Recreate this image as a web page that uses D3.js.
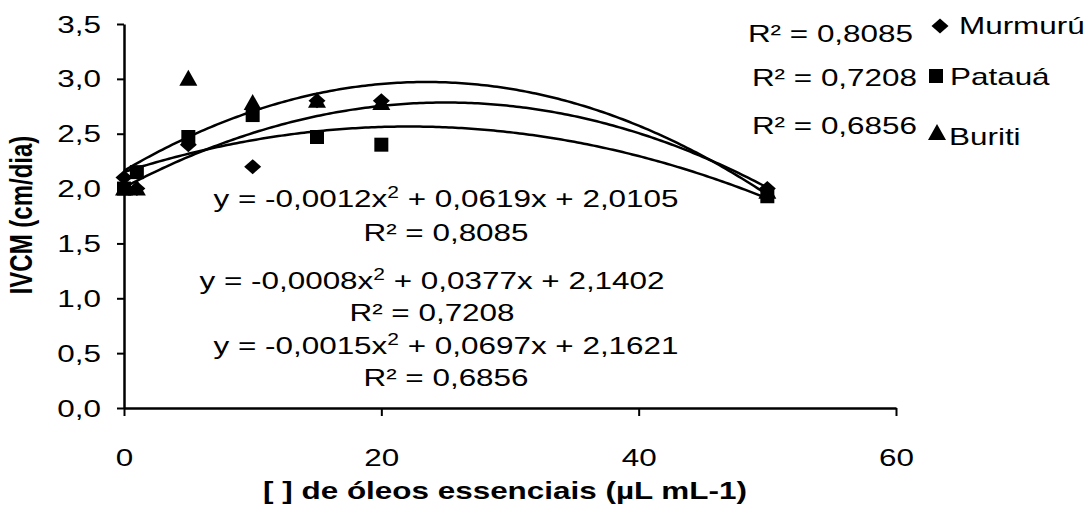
<!DOCTYPE html>
<html>
<head>
<meta charset="utf-8">
<script src="https://cdn.jsdelivr.net/npm/d3@7"></script>
<style>
  body { margin: 0; background: #fff; }
  svg { display: block; font-family: "Liberation Sans", Arial, sans-serif; }
</style>
</head>
<body>
<div id="chart"></div>
<script>
// doses (µL mL-1) and measured IVCM per oil
const doses = [0, 1, 5, 10, 15, 20, 50];
const murmuru = [2.1, 2.0, 2.4, 2.2, 2.8, 2.8, 2.0];
const pataua = [2.0, 2.15, 2.47, 2.67, 2.47, 2.4, 1.93];
const buriti = [2.0, 2.0, 3.0, 2.78, 2.8, 2.78, 1.97];

const seriesNames = ["Murmurú", "Patauá", "Buriti"];
const r2Labels = ["R² = 0,8085", "R² = 0,7208", "R² = 0,6856"];
const eqLabels = [
  ["y = -0,0012x", " + 0,0619x + 2,0105"],
  ["y = -0,0008x", " + 0,0377x + 2,1402"],
  ["y = -0,0015x", " + 0,0697x + 2,1621"]
];
const xTicks = [0, 20, 40, 60];
const yTicks = [0, 0.5, 1, 1.5, 2, 2.5, 3, 3.5];

const W = 1084, H = 506;
const SX = 1.31; // text in the picture is stretched sideways

const svg = d3.select('#chart').append('svg')
  .attr('width', W)
  .attr('height', H);

const x = d3.scaleLinear([0, 60], [124, 896]);
const y = d3.scaleLinear([0, 3.5], [408, 24]);

// least squares 2nd order fit, like the spreadsheet trendline
function quadFit(xv, yv) {
  const s = [0, 0, 0, 0, 0], t = [0, 0, 0];
  xv.forEach((xi, i) => {
    for (let k = 0; k < 5; k++) s[k] += Math.pow(xi, k);
    for (let k = 0; k < 3; k++) t[k] += yv[i] * Math.pow(xi, k);
  });
  const m = [[s[0], s[1], s[2], t[0]], [s[1], s[2], s[3], t[1]], [s[2], s[3], s[4], t[2]]];
  for (let c = 0; c < 3; c++) {
    for (let r = c + 1; r < 3; r++) {
      const f = m[r][c] / m[c][c];
      for (let k = c; k < 4; k++) m[r][k] -= f * m[c][k];
    }
  }
  const b = [0, 0, 0];
  for (let r = 2; r >= 0; r--) {
    let v = m[r][3];
    for (let k = r + 1; k < 3; k++) v -= m[r][k] * b[k];
    b[r] = v / m[r][r];
  }
  return b; // [c, b, a]
}

// symbols
const diamond = {
  draw(ctx) { ctx.moveTo(0, -7.5); ctx.lineTo(8.5, 0); ctx.lineTo(0, 7.5); ctx.lineTo(-8.5, 0); ctx.closePath(); }
};
const square = {
  draw(ctx) { ctx.rect(-7, -7, 14, 14); }
};
const triangle = {
  draw(ctx) { ctx.moveTo(0, -9); ctx.lineTo(9, 7); ctx.lineTo(-9, 7); ctx.closePath(); }
};
const symbols = [diamond, square, triangle];
const values = [murmuru, pataua, buriti];

// axes
const yAxis = svg.append('g')
  .attr('transform', `translate(${x(0)},0)`)
  .call(d3.axisLeft(y).tickValues(yTicks).tickSize(7).tickSizeOuter(0)
    .tickFormat(d => d.toFixed(1).replace('.', ',')));
yAxis.selectAll('text')
  .attr('x', 0).attr('dy', null).attr('y', 8)
  .attr('transform', `translate(-23,0) scale(${SX},1)`)
  .attr('font-size', 24).attr('fill', '#000')
  .attr('font-family', '"Liberation Sans", Arial, sans-serif');

const xAxis = svg.append('g')
  .attr('transform', `translate(0,${y(0)})`)
  .call(d3.axisBottom(x).tickValues(xTicks).tickSize(8).tickSizeOuter(0));
xAxis.selectAll('text')
  .attr('y', 0).attr('dy', null)
  .attr('transform', `translate(0,58) scale(${SX},1)`)
  .attr('font-size', 24).attr('fill', '#000')
  .attr('font-family', '"Liberation Sans", Arial, sans-serif');

svg.selectAll('.domain').attr('stroke', '#000').attr('stroke-width', 2.5);
svg.selectAll('.tick line').attr('stroke', '#000').attr('stroke-width', 2);

// trend curves
const xs = d3.range(0, 50.25, 0.25);
const line = d3.line().x(d => x(d[0])).y(d => y(d[1]));
values.forEach(vals => {
  const f = quadFit(doses, vals);
  svg.append('path')
    .attr('d', line(xs.map(v => [v, f[0] + f[1] * v + f[2] * v * v])))
    .attr('fill', 'none')
    .attr('stroke', '#000')
    .attr('stroke-width', 2.5);
});

// points
values.forEach((vals, i) => {
  svg.append('g').selectAll('path')
    .data(doses.map((d, j) => [d, vals[j]]))
    .join('path')
    .attr('d', d3.symbol().type(symbols[i]))
    .attr('transform', d => `translate(${x(d[0])},${y(d[1])})`)
    .attr('fill', '#000');
});

// equations in the plot
const eqY = [[207, 241], [289, 321], [354, 386]];
const eqX = [446, 432, 446];
eqLabels.forEach((eq, i) => {
  const t = svg.append('text')
    .attr('text-anchor', 'middle')
    .attr('font-size', 24)
    .attr('transform', `translate(${eqX[i]},${eqY[i][0]}) scale(${SX},1)`);
  t.append('tspan').text(eq[0]);
  t.append('tspan').attr('font-size', 16).attr('dy', -9).text('2');
  t.append('tspan').attr('dy', 9).text(eq[1]);
  svg.append('text')
    .attr('text-anchor', 'middle')
    .attr('font-size', 24)
    .attr('transform', `translate(${eqX[i]},${eqY[i][1]}) scale(${SX},1)`)
    .text(r2Labels[i]);
});

// legend with R² on the right
const legR2 = [[913, 42], [917, 86], [917, 134]];
const legSym = [[940, 26], [936, 76], [937, 133]];
const legName = [[959, 34], [950, 85], [949, 145]];
seriesNames.forEach((name, i) => {
  svg.append('text')
    .attr('text-anchor', 'end')
    .attr('font-size', 24)
    .attr('transform', `translate(${legR2[i][0]},${legR2[i][1]}) scale(${SX},1)`)
    .text(r2Labels[i]);
  svg.append('path')
    .attr('d', d3.symbol().type(symbols[i])())
    .attr('transform', `translate(${legSym[i][0]},${legSym[i][1]})`)
    .attr('fill', '#000');
  svg.append('text')
    .attr('font-size', 24)
    .attr('transform', `translate(${legName[i][0]},${legName[i][1]}) scale(${SX},1)`)
    .text(name);
});

// axis titles
svg.append('text')
  .attr('text-anchor', 'middle')
  .attr('font-size', 24)
  .attr('font-weight', 'bold')
  .attr('transform', `translate(505,499) scale(${SX},1)`)
  .text('[ ] de óleos essenciais (µL mL-1)');

svg.append('text')
  .attr('text-anchor', 'middle')
  .attr('font-size', 24)
  .attr('font-weight', 'bold')
  .attr('transform', `translate(32,215) scale(${SX},1) rotate(-90)`)
  .text('IVCM (cm/dia)');
</script>
</body>
</html>
